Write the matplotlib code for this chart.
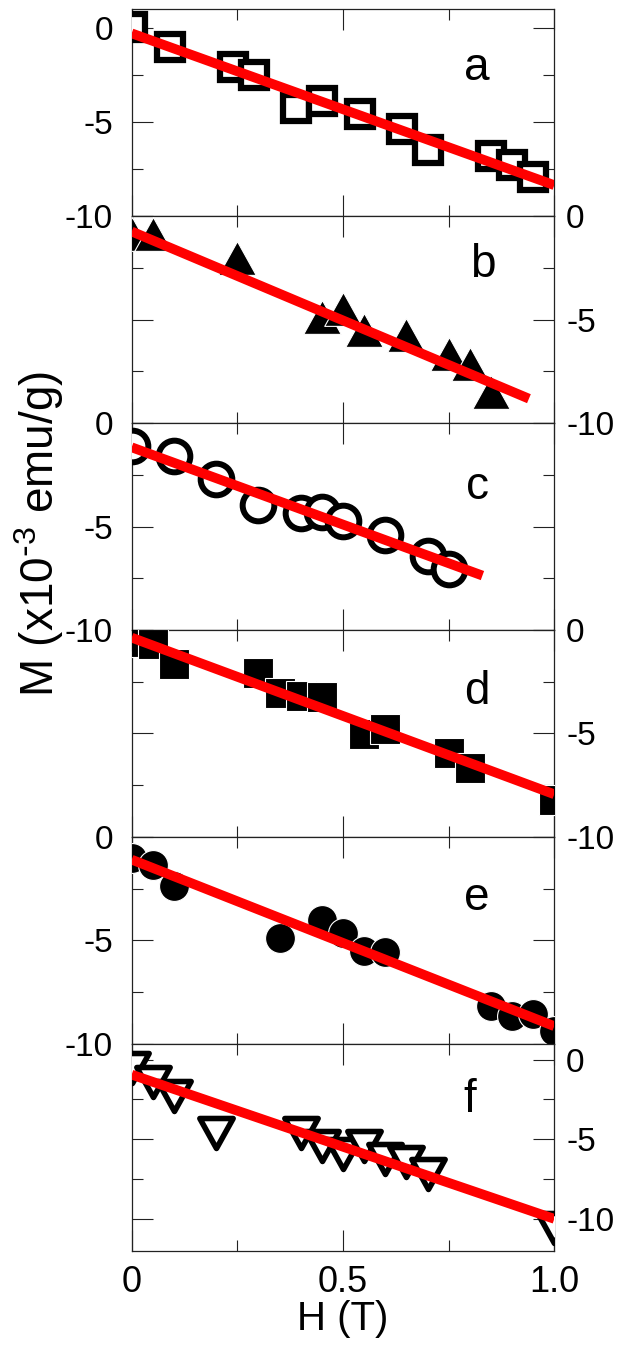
import matplotlib
matplotlib.use("Agg")
import matplotlib.pyplot as plt
from matplotlib.path import Path

plt.rcParams['font.family'] = ['Liberation Sans', 'DejaVu Sans']
plt.rcParams['axes.unicode_minus'] = False
plt.rcParams['mathtext.default'] = 'regular'

# ---- data ----
H_label = "H (T)"
M_label = r"M (x10$^{\text{-}3}$ emu/g)"
xticks = [0, 0.5, 1.0]
xtick_labels = ["0", "0.5", "1.0"]
yticks = [-10, -5, 0]
ytick_labels = ["-10", "-5", "0"]
panel_letters = ["a", "b", "c", "d", "e", "f"]

a_x = [0.0, 0.09, 0.24, 0.29, 0.39, 0.45, 0.54, 0.64, 0.70, 0.85, 0.90, 0.95]
a_y = [0.05, -0.99, -2.09, -2.5, -4.27, -3.85, -4.56, -5.37, -6.47, -6.81, -7.30, -7.93]
a_fit_x = [0.0, 1.0]
a_fit_y = [-0.28, -8.35]

b_x = [0.0, 0.05, 0.25, 0.45, 0.50, 0.55, 0.65, 0.75, 0.80, 0.85]
b_y = [-0.86, -0.86, -2.04, -4.88, -4.49, -5.52, -5.75, -6.67, -7.12, -8.5]
b_fit_x = [0.0, 0.94]
b_fit_y = [-0.74, -8.82]

c_x = [0.0, 0.10, 0.20, 0.30, 0.40, 0.45, 0.50, 0.60, 0.70, 0.75]
c_y = [-1.13, -1.58, -2.71, -3.98, -4.35, -4.32, -4.75, -5.40, -6.43, -7.05]
c_fit_x = [0.0, 0.83]
c_fit_y = [-1.17, -7.37]

d_x = [0.0, 0.05, 0.10, 0.30, 0.35, 0.40, 0.45, 0.55, 0.60, 0.75, 0.80, 1.0]
d_y = [-0.6, -0.69, -1.64, -2.09, -3.03, -3.19, -3.25, -5.04, -4.80, -5.93, -6.68, -8.23]
d_fit_x = [0.0, 1.0]
d_fit_y = [-0.37, -7.94]

e_x = [0.0, 0.05, 0.10, 0.35, 0.45, 0.50, 0.55, 0.60, 0.85, 0.90, 0.95, 1.0]
e_y = [-1.0, -1.37, -2.38, -4.90, -4.03, -4.64, -5.51, -5.54, -8.18, -8.65, -8.55, -9.36]
e_fit_x = [0.0, 1.0]
e_fit_y = [-1.10, -9.15]

f_x = [0.0, 0.05, 0.10, 0.20, 0.40, 0.45, 0.50, 0.55, 0.60, 0.65, 0.70, 1.0]
f_y = [-0.5, -1.4, -2.3, -4.6, -4.6, -5.4, -5.9, -5.4, -6.25, -6.4, -7.2, -10.6]
f_fit_x = [0.0, 1.0]
f_fit_y = [-0.94, -10.0]

ylims = [(-10, 1), (-10, 0), (-10, 0), (-10, 0), (-10, 0), (-12, 1)]
label_side = ["left", "right", "left", "right", "left", "right"]

# ---- markers ----
tri_up = Path([(0, 0.9), (-1, -0.9), (1, -0.9), (0, 0.9)],
              [Path.MOVETO, Path.LINETO, Path.LINETO, Path.CLOSEPOLY])
tri_down = Path([(0, -0.9), (-1, 0.9), (1, 0.9), (0, -0.9)],
                [Path.MOVETO, Path.LINETO, Path.LINETO, Path.CLOSEPOLY])

styles = [
    dict(marker='s', ms=18.3, mfc='white', mec='black', mew=4.5),
    dict(marker=tri_up, ms=27, mfc='black', mec='white', mew=0.8),
    dict(marker='o', ms=22.8, mfc='white', mec='black', mew=4.3),
    dict(marker='s', ms=21.3, mfc='black', mec='white', mew=0.8),
    dict(marker='o', ms=21.5, mfc='black', mec='white', mew=0.8),
    dict(marker=tri_down, ms=24, mfc='white', mec='black', mew=4.0),
]

data = [(a_x, a_y, a_fit_x, a_fit_y), (b_x, b_y, b_fit_x, b_fit_y),
        (c_x, c_y, c_fit_x, c_fit_y), (d_x, d_y, d_fit_x, d_fit_y),
        (e_x, e_y, e_fit_x, e_fit_y), (f_x, f_y, f_fit_x, f_fit_y)]

letter_pos = [(0.816, 0.659), (0.831, 0.708), (0.818, 0.633),
              (0.816, 0.643), (0.816, 0.647), (0.800, 0.671)]

fig = plt.figure(figsize=(6.2, 13.48), dpi=100)
gs = fig.add_gridspec(6, 1, left=0.2124, right=0.894, top=0.9931,
                      bottom=0.0722, hspace=0)

for i in range(6):
    ax = fig.add_subplot(gs[i])
    x, y, fx, fy = data[i]
    ax.plot(x, y, linestyle='none', zorder=3, clip_on=True, **styles[i])
    ax.plot(fx, fy, color='#ff0000', lw=7, solid_capstyle='butt', zorder=4)
    ax.set_xlim(0, 1)
    ax.set_ylim(*ylims[i])
    ax.set_xticks(xticks)
    ax.set_xticks([0.25, 0.75], minor=True)
    ax.set_yticks(yticks)
    ax.set_yticks([-7.5, -2.5], minor=True)
    side = label_side[i]
    ax.tick_params(axis='both', which='both', direction='in', top=True,
                   bottom=True, left=True, right=True, width=0.8,
                   color='#222222')
    ax.tick_params(which='major', length=15)
    ax.tick_params(which='minor', length=8)
    if side == 'left':
        ax.tick_params(axis='y', labelleft=True, labelright=False, pad=13.5,
                       labelsize=24)
    else:
        ax.tick_params(axis='y', labelleft=False, labelright=True, pad=8.5,
                       labelsize=24)
    ax.set_yticklabels(ytick_labels)
    if i == 5:
        ax.set_xticklabels(xtick_labels)
        ax.tick_params(axis='x', labelsize=26, pad=10)
        ax.set_xlabel(H_label, fontsize=29, labelpad=0)
    else:
        ax.tick_params(axis='x', labelbottom=False)
    for sp in ax.spines.values():
        sp.set_linewidth(0.9)
        sp.set_color('#222222')
    lx, ly = letter_pos[i]
    ax.text(lx, ly, panel_letters[i], transform=ax.transAxes, ha='center',
            va='baseline', fontsize=33, zorder=5)

fig.text(39 / 620, 1 - 534 / 1348, M_label, rotation=90, ha='center',
         va='center', fontsize=33)

fig.savefig("out.png", dpi=100)
